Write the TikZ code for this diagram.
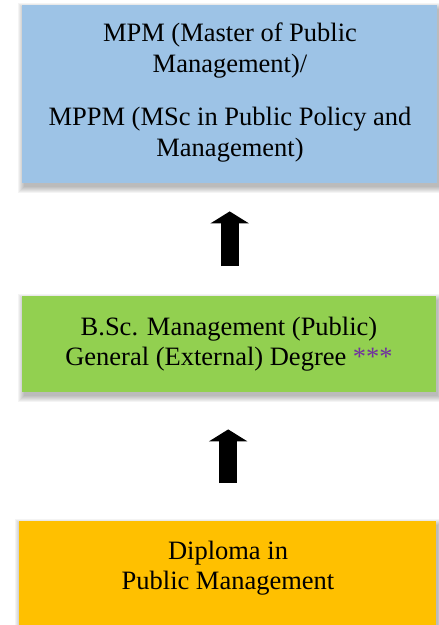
\documentclass[tikz,border=0pt]{standalone}
\usepackage{fontspec}
\setmainfont{Liberation Serif}
\usetikzlibrary{arrows.meta}
\definecolor{boxblue}{HTML}{9DC3E6}
\definecolor{boxgreen}{HTML}{92D050}
\definecolor{boxorange}{HTML}{FFC000}
\definecolor{starpurple}{HTML}{7030A0}
\tikzset{
  x=1pt, y=-1pt,
  levelbox/.style={rectangle, inner sep=0pt, anchor=north west},
  boxtext/.style={align=center, font=\fontsize{26.5}{30.5}\selectfont, inner sep=0pt},
  uparrow/.style={line width=18pt, -{Triangle[width=38pt,length=12pt]}},
}
\newcommand{\softshadow}[4]{%
  \foreach \r in {0,...,6}{%
    \fill[black, opacity=0.045] (#1+2-\r, #2+4-\r) rectangle (#3+2+\r, #4+4+\r);
  }%
}
\begin{document}
\begin{tikzpicture}
\useasboundingbox (0,0) rectangle (439,625);
% shadows
\softshadow{22}{5}{437}{183}
\softshadow{22}{296}{436}{392}
\softshadow{19}{521}{436}{640}
% boxes
\node[levelbox, fill=boxblue, minimum width=415pt, minimum height=178pt] (mpm) at (22,5) {};
\node[levelbox, fill=boxgreen, minimum width=414pt, minimum height=96pt] (bsc) at (22,296) {};
\node[levelbox, fill=boxorange, minimum width=417pt, minimum height=120pt] (dip) at (19,521) {};
% texts
\node[boxtext] (mpmtext) at (230,92.5) {MPM (Master of Public\\Management)/\\[23pt]MPPM (MSc in Public Policy and\\Management)};
\node[boxtext] (bsctext) at (229,344) {B.Sc. Management (Public)\\General (External) Degree {\color{starpurple}***}};
\node[boxtext] (diptext) at (228,568) {Diploma in\\Public Management};
% arrows
\draw[uparrow] ([xshift=0.5pt,yshift=30pt]bsc.north) -- ([yshift=-28pt]mpm.south);
\draw[uparrow] ([xshift=0.5pt,yshift=38pt]dip.north) -- ([xshift=-1pt,yshift=-37pt]bsc.south);
\end{tikzpicture}
\end{document}
